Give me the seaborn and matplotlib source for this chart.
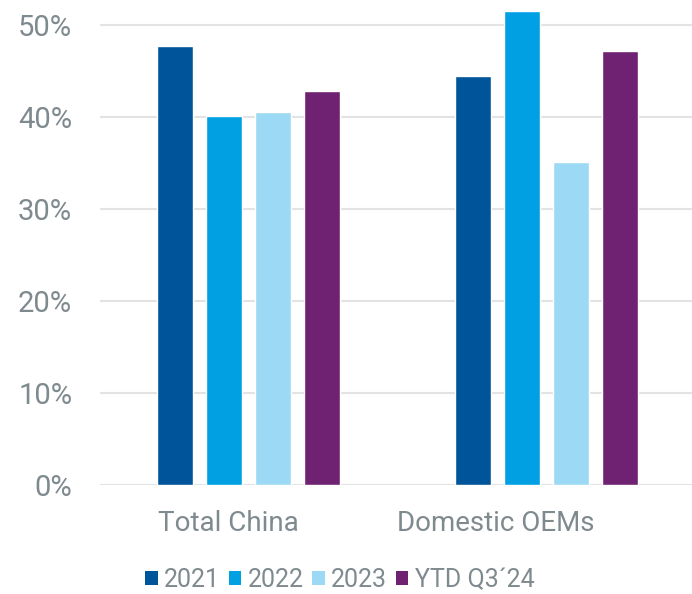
import matplotlib
matplotlib.use("Agg")
import matplotlib.pyplot as plt
import matplotlib.transforms as mtransforms
from matplotlib.ticker import FuncFormatter
from matplotlib.patches import Patch
import seaborn as sns
import pandas as pd

categories = ["Total China", "Domestic OEMs"]
series = ["2021", "2022", "2023", "YTD Q3\u00b424"]
values_2021 = [0.477, 0.444]
values_2022 = [0.401, 0.515]
values_2023 = [0.405, 0.351]
values_ytd = [0.428, 0.472]
colors = ["#00559A", "#00A0E3", "#9CD9F4", "#702272"]

rows = []
for s, vals in zip(series, [values_2021, values_2022, values_2023, values_ytd]):
    for c, v in zip(categories, vals):
        rows.append({"category": c, "series": s, "value": v})
df = pd.DataFrame(rows)

sns.set_theme(style="white")
plt.rcParams["font.family"] = ["Roboto", "DejaVu Sans"]
text_color = "#7F8A8F"

fig = plt.figure(figsize=(6.92, 5.94), dpi=100)
ax = fig.add_axes([100/692, (594-485)/594, 1-100/692, 485/594])

sns.barplot(data=df, x="category", y="value", hue="series", order=categories,
            hue_order=series, palette=colors, width=0.658, gap=0.265,
            saturation=1, ax=ax, legend=False)

ax.set_ylim(0, 0.527)
ax.set_xlim(-0.498, 1.488)
ax.set_yticks([0, 0.1, 0.2, 0.3, 0.4, 0.5])
ax.yaxis.set_major_formatter(FuncFormatter(lambda v, p: f"{v*100:.0f}%"))
ax.grid(axis="y", color="#E3E3E3", linewidth=1.5)
ax.set_axisbelow(True)
for sp in ax.spines.values():
    sp.set_visible(False)
ax.set_xlabel("")
ax.set_ylabel("")
ax.tick_params(axis="y", length=0, pad=20, labelsize=21, labelcolor=text_color)
ax.tick_params(axis="x", length=0, pad=18, labelsize=20, labelcolor=text_color)

shifts = [-20, -51]
for lab, dx in zip(ax.get_xticklabels(), shifts):
    lab.set_transform(lab.get_transform() + mtransforms.ScaledTranslation(dx/100, 0, fig.dpi_scale_trans))

handles = [Patch(facecolor=c, edgecolor="none") for c in colors]
fig.legend(handles, series, loc="center", bbox_to_anchor=(0.491, 1 - 580/594), ncol=4,
           frameon=False, fontsize=18, labelcolor=text_color, borderpad=0,
           handlelength=0.5, handleheight=0.5, handletextpad=0.25, columnspacing=0.35)

fig.savefig("out.png", dpi=100)
